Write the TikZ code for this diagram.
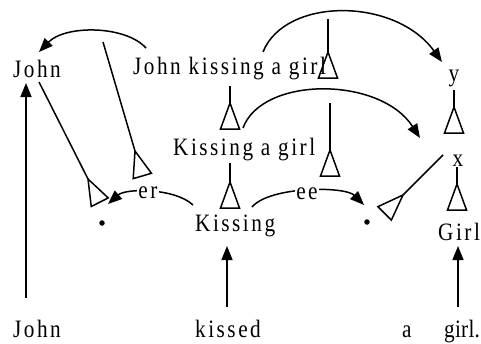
\documentclass[tikz,border=0pt]{standalone}
\usepackage{fontspec}
\setmainfont{Liberation Serif}
\newfontfamily\glossfont[FakeStretch=0.85,LetterSpace=10]{Liberation Serif}
\newfontfamily\tightfont[FakeStretch=0.85,LetterSpace=1]{Liberation Serif}
\usetikzlibrary{calc,arrows.meta}

\tikzset{
  word/.style={anchor=base west, inner sep=0pt, font=\glossfont\fontsize{25}{25}\selectfont},
  cword/.style={word, anchor=base},
  lbl/.style={anchor=base, fill=white, inner xsep=1.5pt, inner ysep=1pt, font=\glossfont\fontsize{25}{25}\selectfont},
  conn/.style={line width=1.5pt},
  arr/.style={conn, -{Triangle[length=14pt,width=11pt]}},
  dotmark/.style={circle, fill=black, inner sep=0pt, minimum size=5.5pt},
}

% line from #1 to the apex #2, then an open triangle pointing back at #1
\newcommand\roofmark[2]{%
  \coordinate (#2-m) at ($(#2)!-26pt!(#1)$);
  \draw[conn] (#1) -- (#2);
  \draw[conn, line join=miter] (#2) -- ($(#2-m)!9.5pt!90:(#2)$) -- ($(#2-m)!9.5pt!-90:(#2)$) -- cycle;
}

\begin{document}
\begin{tikzpicture}[x=1pt, y=-1pt]
\useasboundingbox (0,0) rectangle (481,343);

% words
\node[word] (johnT) at (13,77) {John};
\node[word] (jkg) at (133,74) {John kissing a girl};
\node[word] (kg) at (173,155) {Kissing a girl};
\node[word] (kis) at (195,231) {Kissing};
\node[cword] (y) at (454,81) {y};
\node[cword] (x) at (458,166) {x};
\node[word] (girlN) at (438,240) {Girl};
\node[word] (johnB) at (13,337) {John};
\node[word] (kissed) at (195,337) {kissed};
\node[word] (a) at (402,337) {a};
\node[word, font=\tightfont\fontsize{25}{25}\selectfont] (girlB) at (444,337) {girl.};

\node[dotmark] (dotL) at (102,223) {};
\node[dotmark] (dotR) at (367,222) {};

% upward arrows from the sentence
\draw[arr] (26,298) -- (26,83);
\draw[arr] (227,307) -- (227,246);
\draw[arr] (458,307) -- (458,246);

% curved arrows
\coordinate (c1s) at (146,48);
\coordinate (c1e) at (39,52);
\draw[arr] (c1s) .. controls (125,25) and (65,25) .. (c1e);

\coordinate (c2s) at (263,52);
\coordinate (c2e) at (442,62);
\draw[arr] (c2s) .. controls (285,-3) and (395,-3) .. (c2e);

\coordinate (c3s) at (243,128);
\coordinate (c3e) at (420,138);
\draw[arr] (c3s) .. controls (262,76) and (380,76) .. (c3e);

\coordinate (ers) at (193,205);
\coordinate (ere) at (108,204);
\draw[arr] (ers) .. controls (175,188) and (126,188) .. (ere);
\node[lbl] (er) at (148,198) {er};

\coordinate (ees) at (252,207);
\coordinate (eee) at (364,205);
\draw[arr] (ees) .. controls (270,186) and (345,186) .. (eee);
\node[lbl] (ee) at (307,199) {ee};

% lines ending in open triangles
\coordinate (r1a) at (328,19);  \coordinate (r1b) at (328,52);
\coordinate (r2a) at (230,86);  \coordinate (r2b) at (230,103);
\coordinate (r3a) at (230,163); \coordinate (r3b) at (230,182);
\coordinate (r4a) at (330,103); \coordinate (r4b) at (330,150);
\coordinate (r5a) at (454,90);  \coordinate (r5b) at (454,107);
\coordinate (r6a) at (457,167); \coordinate (r6b) at (457,184);
\coordinate (r7a) at (443,155); \coordinate (r7b) at (403,195);
\coordinate (r8a) at (103,42);  \coordinate (r8b) at (135,151);
\coordinate (r9a) at (39,82);   \coordinate (r9b) at (88,179);
\roofmark{r1a}{r1b}
\roofmark{r2a}{r2b}
\roofmark{r3a}{r3b}
\roofmark{r4a}{r4b}
\roofmark{r5a}{r5b}
\roofmark{r6a}{r6b}
\roofmark{r7a}{r7b}
\roofmark{r8a}{r8b}
\roofmark{r9a}{r9b}
\end{tikzpicture}
\end{document}
